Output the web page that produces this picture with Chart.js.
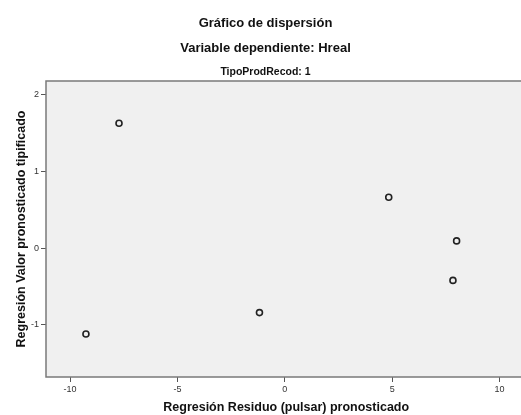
<!DOCTYPE html>
<html>
<head>
<meta charset="utf-8">
<script src="https://cdn.jsdelivr.net/npm/chart.js@4.4.1/dist/chart.umd.min.js"></script>
<style>
    html, body { margin: 0; padding: 0; background: #fff; overflow: hidden; }
    #wrap { width: 531px; height: 415px; }
</style>
</head>
<body>
<div id="wrap"><canvas id="graficoDispersion"></canvas></div>
<script>
// Residuo (pulsar) pronosticado vs valor pronosticado tipificado
var residuos = [-7.72, -9.26, -1.18, 4.84, 7.83, 8.0];
var pronosticados = [1.63, -1.12, -0.84, 0.665, -0.42, 0.095];
var ticksX = [-10, -5, 0, 5, 10];
var ticksY = [-1, 0, 1, 2];

var puntos = [];
for (var i = 0; i < residuos.length; i++) {
    puntos.push({ x: residuos[i], y: pronosticados[i] });
}

const ctxDispersion = document.getElementById('graficoDispersion');

// fondo gris y marco del área de trazado
const marcoArea = {
    id: 'marcoArea',
    beforeDraw(chart) {
        const a = chart.chartArea;
        const c = chart.ctx;
        c.save();
        c.fillStyle = '#f0f0f0';
        c.fillRect(a.left, a.top, a.right - a.left, a.bottom - a.top);
        c.restore();
    },
    afterDraw(chart) {
        const a = chart.chartArea;
        const c = chart.ctx;
        c.save();
        c.strokeStyle = '#7a7a7a';
        c.lineWidth = 1.5;
        c.strokeRect(a.left, a.top, a.right - a.left, a.bottom - a.top);
        c.restore();
    }
};

const fuenteTicks = { family: 'Liberation Sans, Arial, sans-serif', size: 9 };

new Chart(ctxDispersion, {
    type: 'scatter',
    data: {
        datasets: [{
            label: 'TipoProdRecod: 1',
            data: puntos,
            pointStyle: 'circle',
            pointRadius: 3,
            pointHoverRadius: 3,
            borderColor: '#222',
            backgroundColor: 'rgba(0,0,0,0)',
            borderWidth: 1.6
        }]
    },
    options: {
        responsive: true,
        maintainAspectRatio: false,
        animation: false,
        layout: { padding: { left: 0, right: 0, top: 0, bottom: 0 } },
        plugins: {
            legend: { display: false },
            tooltip: { enabled: false },
            title: {
                display: true,
                text: ['Gráfico de dispersión', 'Variable dependiente: Hreal'],
                color: '#111',
                font: { family: 'Liberation Sans, Arial, sans-serif', size: 13, weight: 'bold', lineHeight: 25 / 13 },
                padding: { top: 10.7, bottom: 0 }
            },
            subtitle: {
                display: true,
                text: 'TipoProdRecod: 1',
                color: '#111',
                font: { family: 'Liberation Sans Narrow, Arial Narrow, sans-serif', size: 10.5, weight: 'bold' },
                padding: { top: 5.3, bottom: 2.4 }
            }
        },
        scales: {
            x: {
                type: 'linear',
                min: -11.12,
                max: 11.25,
                afterBuildTicks: function (scale) {
                    scale.ticks = ticksX.map(function (v) { return { value: v }; });
                },
                afterFit: function (scale) { scale.height = 38; },
                grid: { drawOnChartArea: false, drawTicks: true, tickLength: 5, tickColor: '#555', lineWidth: 1 },
                border: { display: false },
                ticks: { color: '#333', font: fuenteTicks, padding: 2, maxRotation: 0 },
                title: {
                    display: true,
                    text: 'Regresión Residuo (pulsar) pronosticado',
                    color: '#111',
                    font: { family: 'Liberation Sans, Arial, sans-serif', size: 12.5, weight: 'bold' },
                    padding: { top: 6, bottom: 0 }
                }
            },
            y: {
                type: 'linear',
                min: -1.68,
                max: 2.18,
                afterBuildTicks: function (scale) {
                    scale.ticks = ticksY.map(function (v) { return { value: v }; });
                },
                afterFit: function (scale) { scale.width = 46; },
                grid: { drawOnChartArea: false, drawTicks: true, tickLength: 5, tickColor: '#555', lineWidth: 1 },
                border: { display: false },
                ticks: { color: '#333', font: fuenteTicks, padding: 2 },
                title: {
                    display: true,
                    text: 'Regresión Valor pronosticado tipificado',
                    color: '#111',
                    font: { family: 'Liberation Sans, Arial, sans-serif', size: 12.5, weight: 'bold' },
                    padding: { top: 14.5, bottom: 0 }
                }
            }
        }
    },
    plugins: [marcoArea]
});
</script>
</body>
</html>
